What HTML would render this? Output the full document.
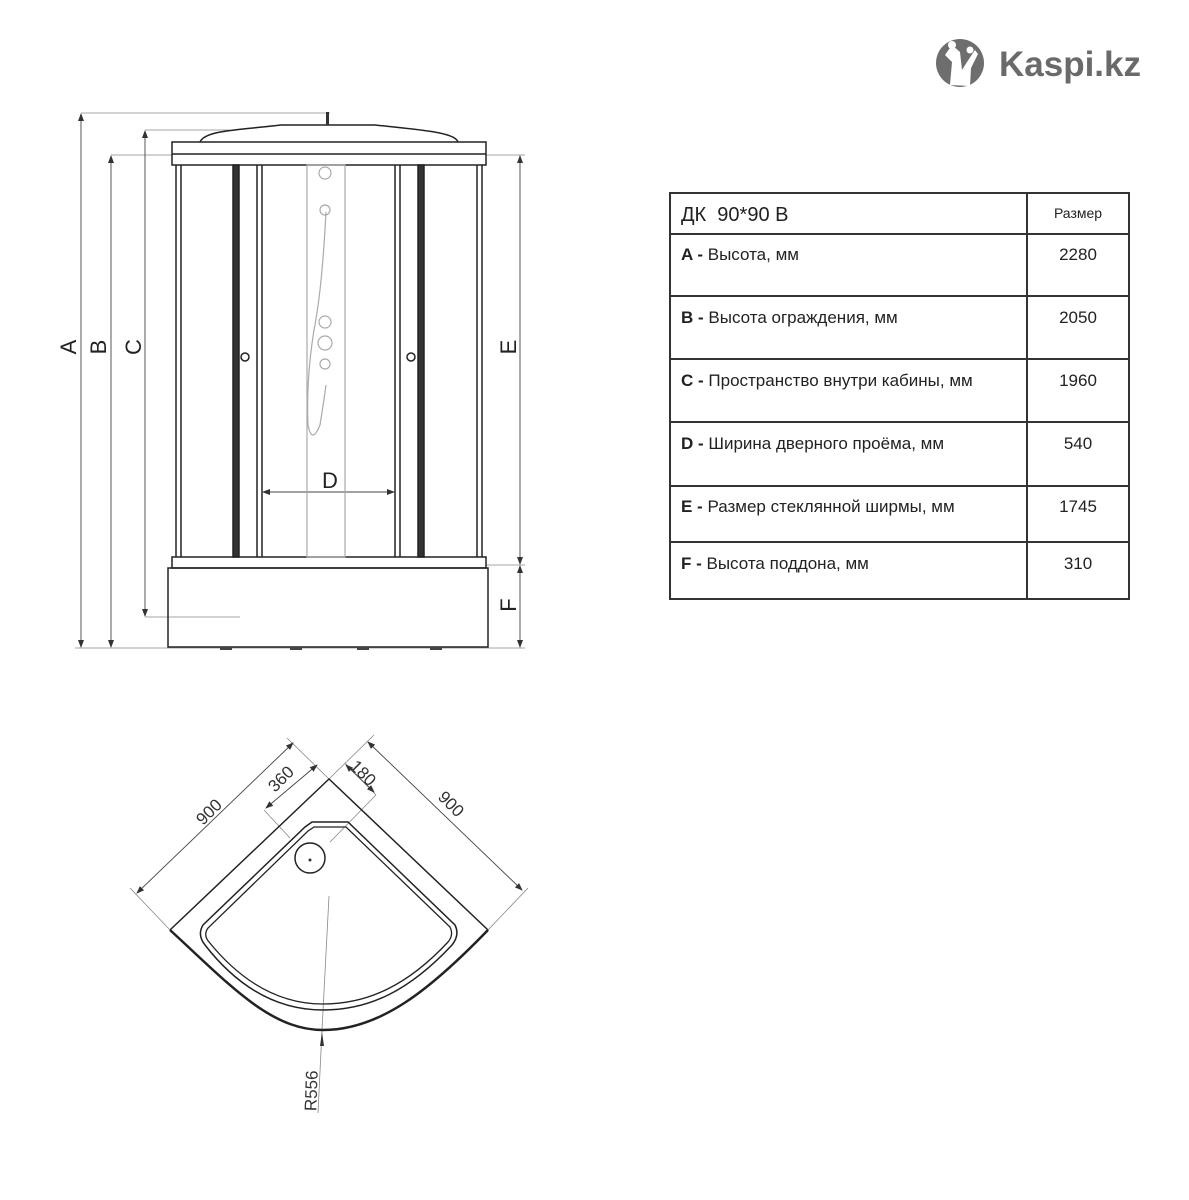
<!DOCTYPE html>
<html><head><meta charset="utf-8"><style>
html,body{margin:0;padding:0;background:#fff;}
svg{display:block}
</style></head><body>
<svg width="1189" height="1200" viewBox="0 0 1189 1200" xmlns="http://www.w3.org/2000/svg" font-family="'Liberation Sans', sans-serif">
<defs>
<marker id="ar" markerWidth="8" markerHeight="8" refX="7" refY="3" orient="auto-start-reverse" markerUnits="userSpaceOnUse"><path d="M0,0 L8,3 L0,6 z" fill="#333"/></marker>
</defs>
<!-- logo -->
<circle cx="960" cy="63" r="24" fill="#6e6e6e"/>
<path d="M950,85 L952,62 L945,55 L952,45 L960,52 L962,70 L967,62 L975,50 L978,54 L971,68 L970,86 Z" fill="#fff"/>
<circle cx="952" cy="45" r="4" fill="#fff"/><circle cx="970" cy="50" r="3.5" fill="#fff"/>
<text x="999" y="76" font-size="35" font-weight="bold" fill="#6a6a6a">Kaspi.kz</text>

<!-- dimension lines front -->
<g stroke="#888" stroke-width="0.8" fill="none">
<line x1="81" y1="113" x2="330" y2="113"/>
<line x1="145" y1="130" x2="230" y2="130"/>
<line x1="111" y1="155" x2="172" y2="155"/>
<line x1="486" y1="155" x2="525" y2="155"/>
<line x1="486" y1="565" x2="525" y2="565"/>
<line x1="145" y1="617" x2="240" y2="617"/>
<line x1="75" y1="648" x2="525" y2="648"/>
</g>
<g stroke="#444" stroke-width="0.9" fill="none" marker-start="url(#ar)" marker-end="url(#ar)">
<line x1="81" y1="114" x2="81" y2="647"/>
<line x1="111" y1="156" x2="111" y2="647"/>
<line x1="145" y1="131" x2="145" y2="616"/>
<line x1="520" y1="156" x2="520" y2="564"/>
<line x1="520" y1="566" x2="520" y2="647"/>
<line x1="263" y1="492" x2="394" y2="492"/>
</g>
<g font-size="22" fill="#222">
<text transform="translate(76,347) rotate(-90)" text-anchor="middle">A</text>
<text transform="translate(106,347) rotate(-90)" text-anchor="middle">B</text>
<text transform="translate(141,347) rotate(-90)" text-anchor="middle">C</text>
<text transform="translate(516,347) rotate(-90)" text-anchor="middle">E</text>
<text transform="translate(516,605) rotate(-90)" text-anchor="middle">F</text>
<text x="330" y="488" text-anchor="middle">D</text>
</g>

<!-- cabin -->
<g stroke="#222" stroke-width="1.5" fill="none">
<path d="M200,142 C205,130 240,130 281,125 L375,125 C420,130 455,132 458,142"/>
<rect x="326" y="112" width="3" height="13" fill="#333" stroke="none"/>
<rect x="172" y="142" width="314" height="23"/>
<line x1="172" y1="154" x2="486" y2="154"/>
<line x1="176" y1="165" x2="176" y2="557"/><line x1="181" y1="165" x2="181" y2="557"/>
<line x1="477" y1="165" x2="477" y2="557"/><line x1="482" y1="165" x2="482" y2="557"/>
<line x1="257" y1="165" x2="257" y2="557"/><line x1="262" y1="165" x2="262" y2="557"/>
<line x1="395" y1="165" x2="395" y2="557"/><line x1="400" y1="165" x2="400" y2="557"/>
<rect x="233" y="165" width="6" height="392" fill="#333"/>
<rect x="418" y="165" width="6" height="392" fill="#333"/>
<circle cx="245" cy="357" r="4" fill="#fff"/>
<circle cx="411" cy="357" r="4" fill="#fff"/>
<rect x="172" y="557" width="314" height="11"/>
<rect x="168" y="568" width="320" height="79"/>
</g>
<g fill="#444">
<rect x="220" y="647" width="12" height="3"/><rect x="290" y="647" width="12" height="3"/>
<rect x="357" y="647" width="12" height="3"/><rect x="430" y="647" width="12" height="3"/>
</g>
<!-- shower panel -->
<g stroke="#aaa" stroke-width="1.2" fill="none">
<rect x="307" y="165" width="38" height="392"/>
<circle cx="325" cy="173" r="6"/>
<circle cx="325" cy="210" r="5"/>
<path d="M326,212 Q322,290 314,330 Q306,380 308,425 Q312,445 320,425 Q324,400 326,385"/>
<circle cx="325" cy="322" r="6"/>
<circle cx="325" cy="343" r="7"/>
<circle cx="325" cy="364" r="5"/>
</g>

<!-- plan view -->
<g stroke="#888" stroke-width="0.8" fill="none">
<line x1="170" y1="930" x2="130" y2="888"/>
<line x1="329" y1="779" x2="287" y2="738"/>
<line x1="329" y1="779" x2="374" y2="735"/>
<line x1="488" y1="930" x2="528" y2="888"/>
<line x1="264" y1="810" x2="290" y2="838"/>
<line x1="345" y1="763" x2="376" y2="795"/>
<line x1="376" y1="795" x2="330" y2="842"/>
<line x1="329" y1="896" x2="322" y2="1030"/>
<line x1="322" y1="1030" x2="318" y2="1113"/>
</g>
<g stroke="#444" stroke-width="0.9" fill="none" marker-start="url(#ar)" marker-end="url(#ar)">
<line x1="137" y1="893" x2="293" y2="743"/>
<line x1="368" y1="742" x2="522" y2="890"/>
<line x1="266" y1="808" x2="317" y2="765"/>
<line x1="346" y1="765" x2="374" y2="792"/>
</g>
<path d="M320,1046 L322,1032 L324,1046 z" fill="#333"/>
<g stroke="#222" fill="none">
<path d="M170,930 L329,779 L488,930" stroke-width="1.5"/>
<path d="M170,930 C230,985 270,1030 323,1030 C380,1030 430,990 488,930" stroke-width="2.5"/>
<path d="M312,822 L348,822 L455,925 Q460,935 452,945 C410,990 370,1010 323,1010 C280,1010 240,990 205,945 Q197,935 203,925 L305,827 Z" stroke-width="1.5"/>
<path d="M314,827 L346,827 L450,927 Q454,935 448,942 C408,985 368,1004 323,1004 C282,1004 244,985 209,942 Q203,935 208,928 L308,831 Z" stroke-width="1.3"/>
<circle cx="310" cy="858" r="15" stroke-width="1.5"/>
</g>
<circle cx="310" cy="860" r="1.5" fill="#333"/>
<g font-size="17" fill="#333">
<text transform="translate(213,816) rotate(-45)" text-anchor="middle">900</text>
<text transform="translate(447,808) rotate(45)" text-anchor="middle">900</text>
<text transform="translate(285,783) rotate(-45)" text-anchor="middle">360</text>
<text transform="translate(359,777) rotate(45)" text-anchor="middle">180</text>
<text transform="translate(317,1091) rotate(-88)" text-anchor="middle">R556</text>
</g>

<!-- table -->
<g stroke="#333" stroke-width="2" fill="none">
<rect x="670" y="193" width="459" height="406"/>
<line x1="1027" y1="193" x2="1027" y2="599"/>
<line x1="670" y1="234" x2="1129" y2="234"/>
<line x1="670" y1="296" x2="1129" y2="296"/>
<line x1="670" y1="359" x2="1129" y2="359"/>
<line x1="670" y1="422" x2="1129" y2="422"/>
<line x1="670" y1="486" x2="1129" y2="486"/>
<line x1="670" y1="542" x2="1129" y2="542"/>
</g>
<g font-size="17" fill="#222">
<text x="681" y="221" font-size="20" xml:space="preserve">ДК  90*90 В</text>
<text x="1078" y="218" font-size="14" text-anchor="middle">Размер</text>
<text x="681" y="260"><tspan font-weight="bold">A -</tspan> Высота, мм</text>
<text x="681" y="323"><tspan font-weight="bold">B -</tspan> Высота ограждения, мм</text>
<text x="681" y="386"><tspan font-weight="bold">C -</tspan> Пространство внутри кабины, мм</text>
<text x="681" y="449"><tspan font-weight="bold">D -</tspan> Ширина дверного проёма, мм</text>
<text x="681" y="512"><tspan font-weight="bold">E -</tspan> Размер стеклянной ширмы, мм</text>
<text x="681" y="569"><tspan font-weight="bold">F -</tspan> Высота поддона, мм</text>
<g text-anchor="middle">
<text x="1078" y="260">2280</text>
<text x="1078" y="323">2050</text>
<text x="1078" y="386">1960</text>
<text x="1078" y="449">540</text>
<text x="1078" y="512">1745</text>
<text x="1078" y="569">310</text>
</g>
</g>
</svg>
</body></html>
